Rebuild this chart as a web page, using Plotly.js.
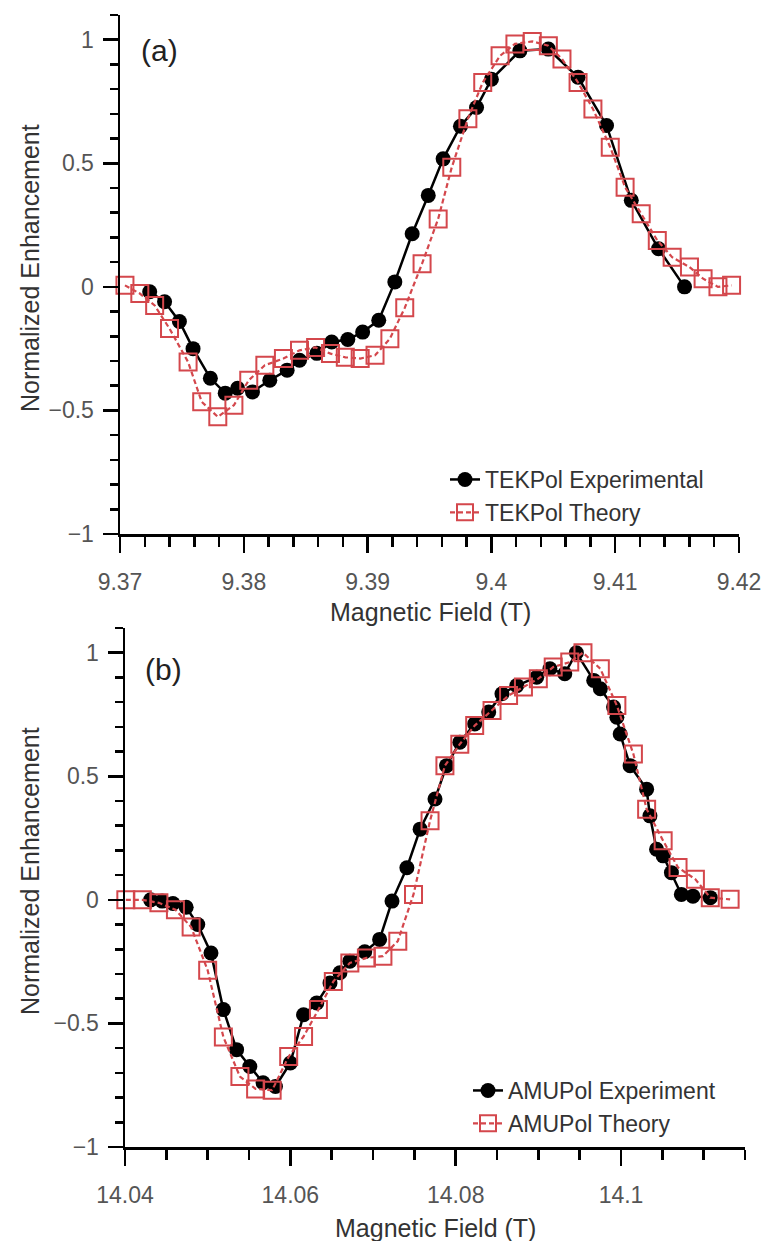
<!DOCTYPE html>
<html>
<head>
<meta charset="utf-8">
<script src="https://cdn.plot.ly/plotly-3.0.1.min.js"></script>
<style>html,body{margin:0;padding:0;background:#fff;}#chart{width:768px;height:1241px;}</style>
</head>
<body>
<div id="chart"></div>
<script>
// Panel (a) TEKPol
const fieldA_exp = [9.3724, 9.3736, 9.3748, 9.3759, 9.3773, 9.3785, 9.3795, 9.3807, 9.3821, 9.3835, 9.3845, 9.3859, 9.3871, 9.3884, 9.3896, 9.3909, 9.3922, 9.3936, 9.3949, 9.3961, 9.3975, 9.3988, 9.4000, 9.4023, 9.4046, 9.4070, 9.4093, 9.4113, 9.4135, 9.4156];
const enhA_exp   = [-0.02, -0.06, -0.14, -0.25, -0.37, -0.43, -0.41, -0.425, -0.378, -0.337, -0.297, -0.269, -0.223, -0.213, -0.183, -0.135, 0.02, 0.215, 0.37, 0.518, 0.65, 0.726, 0.84, 0.955, 0.962, 0.848, 0.653, 0.35, 0.154, 0.0];
const fieldA_th  = [9.3704, 9.3716, 9.3728, 9.3740, 9.3755, 9.3766, 9.3779, 9.3792, 9.3804, 9.3817, 9.3832, 9.3845, 9.3858, 9.3870, 9.3882, 9.3894, 9.3906, 9.3918, 9.3930, 9.3944, 9.3957, 9.3968, 9.3981, 9.3993, 9.4007, 9.4019, 9.4033, 9.4046, 9.4057, 9.4070, 9.4082, 9.4096, 9.4108, 9.4121, 9.4134, 9.4146, 9.4160, 9.4171, 9.4183, 9.4194];
const enhA_th    = [0.006, -0.027, -0.075, -0.169, -0.304, -0.465, -0.526, -0.479, -0.378, -0.317, -0.29, -0.257, -0.245, -0.27, -0.285, -0.29, -0.277, -0.21, -0.085, 0.094, 0.275, 0.484, 0.68, 0.827, 0.935, 0.983, 0.993, 0.976, 0.922, 0.827, 0.72, 0.565, 0.403, 0.296, 0.188, 0.12, 0.08, 0.033, 0.0, 0.006];

// Panel (b) AMUPol
const fieldB_exp = [14.0431, 14.0445, 14.0458, 14.0474, 14.0488, 14.0504, 14.0519, 14.0535, 14.0551, 14.0567, 14.0582, 14.0600, 14.0616, 14.0632, 14.0648, 14.0660, 14.0672, 14.0690, 14.0708, 14.0723, 14.0741, 14.0757, 14.0775, 14.0789, 14.0805, 14.0823, 14.0840, 14.0856, 14.0874, 14.0898, 14.0914, 14.0932, 14.0946, 14.0967, 14.0975, 14.0991, 14.0995, 14.0999, 14.1011, 14.1031, 14.1035, 14.1043, 14.1051, 14.1061, 14.1073, 14.1087, 14.1108];
const enhB_exp   = [0.0, -0.005, -0.015, -0.03, -0.10, -0.215, -0.444, -0.606, -0.674, -0.74, -0.755, -0.66, -0.465, -0.417, -0.336, -0.295, -0.248, -0.21, -0.16, -0.005, 0.13, 0.286, 0.408, 0.543, 0.638, 0.712, 0.76, 0.834, 0.867, 0.901, 0.935, 0.915, 1.0, 0.888, 0.854, 0.78, 0.739, 0.671, 0.543, 0.448, 0.34, 0.205, 0.178, 0.11, 0.022, 0.015, 0.009];
const fieldB_th  = [14.0401, 14.0421, 14.0441, 14.0461, 14.0480, 14.0500, 14.0519, 14.0539, 14.0558, 14.0578, 14.0598, 14.0616, 14.0634, 14.0652, 14.0672, 14.0692, 14.0712, 14.0730, 14.0749, 14.0769, 14.0787, 14.0805, 14.0823, 14.0844, 14.0864, 14.0882, 14.0900, 14.0918, 14.0938, 14.0954, 14.0975, 14.0995, 14.1015, 14.1031, 14.1051, 14.1069, 14.1090, 14.1108, 14.1132];
const enhB_th    = [0.0, 0.0, -0.012, -0.04, -0.11, -0.285, -0.555, -0.715, -0.765, -0.77, -0.634, -0.553, -0.444, -0.33, -0.255, -0.235, -0.228, -0.167, 0.022, 0.32, 0.543, 0.63, 0.705, 0.766, 0.827, 0.861, 0.895, 0.942, 0.962, 1.0, 0.935, 0.786, 0.59, 0.367, 0.239, 0.131, 0.083, 0.009, 0.002];

// Tick labels
const xTickValsA = [9.37, 9.38, 9.39, 9.40, 9.41, 9.42];
const xTickTextA = ['9.37', '9.38', '9.39', '9.4', '9.41', '9.42'];
const xTickValsB = [14.04, 14.06, 14.08, 14.10];
const xTickTextB = ['14.04', '14.06', '14.08', '14.1'];
const yTickVals  = [-1, -0.5, 0, 0.5, 1];
const yTickText  = ['\u22121', '\u22120.5', '0', '0.5', '1'];

const W = 768, H = 1241;
const px = v => v / W;
const py = v => (H - v) / H;
const FONT = '"Liberation Sans", Arial, sans-serif';
const RED = '#d4474c';

function expTrace(x, y, name, xa, ya, lg) {
  return {x, y, name, xaxis: xa, yaxis: ya, legend: lg, type: 'scatter', mode: 'lines+markers',
    cliponaxis: false,
    line: {color: '#000', width: 2.5},
    marker: {symbol: 'circle', size: 15, color: '#000'}};
}
function thTrace(x, y, name, xa, ya, lg) {
  return {x, y, name, xaxis: xa, yaxis: ya, legend: lg, type: 'scatter', mode: 'lines+markers',
    cliponaxis: false,
    line: {color: RED, width: 2.2, dash: '5px,3px'},
    marker: {symbol: 'square-open', size: 17, color: RED, line: {color: RED, width: 2}}};
}

const data = [
  expTrace(fieldA_exp, enhA_exp, 'TEKPol Experimental', 'x', 'y', 'legend'),
  thTrace(fieldA_th, enhA_th, 'TEKPol Theory', 'x', 'y', 'legend'),
  expTrace(fieldB_exp, enhB_exp, 'AMUPol Experiment', 'x2', 'y2', 'legend2'),
  thTrace(fieldB_th, enhB_th, 'AMUPol Theory', 'x2', 'y2', 'legend2')
];

const tickFont = {family: FONT, size: 23, color: '#555'};
function xAxis(domain, range, vals, text, tick0, minorDtick, anchor) {
  return {domain, range, anchor, tickmode: 'array', tickvals: vals, ticktext: text,
    ticks: 'outside', ticklen: 16, tickwidth: 2.5, tickcolor: '#000',
    ticklabelstandoff: 10,
    minor: {tickmode: 'linear', tick0: tick0, dtick: minorDtick, ticks: 'outside', ticklen: 10, tickwidth: 2.5, tickcolor: '#000', showgrid: false},
    showline: true, linecolor: '#000', linewidth: 2.5, showgrid: false, zeroline: false,
    tickfont: tickFont, automargin: false, fixedrange: true};
}
function yAxis(domain, anchor) {
  return {domain, range: [-1, 1.1], anchor, tickmode: 'array', tickvals: yTickVals, ticktext: yTickText,
    ticks: 'outside', ticklen: 15, tickwidth: 2.5, tickcolor: '#000',
    ticklabelstandoff: 4,
    minor: {tickmode: 'linear', tick0: -1, dtick: 0.1, ticks: 'outside', ticklen: 8, tickwidth: 2.5, tickcolor: '#000', showgrid: false},
    showline: true, linecolor: '#000', linewidth: 2.5, showgrid: false, zeroline: false,
    tickfont: tickFont, automargin: false, fixedrange: true};
}

const titleFont = {family: FONT, size: 25, color: '#333'};
const legendFont = {family: FONT, size: 23, color: '#333'};

const layout = {
  width: W, height: H,
  margin: {l: 0, r: 0, t: 0, b: 0},
  paper_bgcolor: '#fff', plot_bgcolor: '#fff',
  font: {family: FONT},
  xaxis: xAxis([px(120), px(739)], [9.37, 9.42], xTickValsA, xTickTextA, 9.37, 0.002, 'y'),
  yaxis: yAxis([py(534), py(15)], 'x'),
  xaxis2: xAxis([px(125), px(745)], [14.04, 14.115], xTickValsB, xTickTextB, 14.04, 0.005, 'y2'),
  yaxis2: yAxis([py(1147), py(628)], 'x2'),
  legend: {x: px(445), y: py(458), xanchor: 'left', yanchor: 'top', bgcolor: 'rgba(0,0,0,0)', font: legendFont, tracegroupgap: 0},
  legend2: {x: px(468), y: py(1069), xanchor: 'left', yanchor: 'top', bgcolor: 'rgba(0,0,0,0)', font: legendFont, tracegroupgap: 0},
  annotations: [
    {text: 'Magnetic Field (T)', xref: 'paper', yref: 'paper', x: px(430), y: py(612), xanchor: 'center', yanchor: 'middle', showarrow: false, font: titleFont},
    {text: 'Magnetic Field (T)', xref: 'paper', yref: 'paper', x: px(435), y: py(1228), xanchor: 'center', yanchor: 'middle', showarrow: false, font: titleFont},
    {text: 'Normalized Enhancement', xref: 'paper', yref: 'paper', x: px(30), y: py(268), xanchor: 'center', yanchor: 'middle', textangle: -90, showarrow: false, font: titleFont},
    {text: 'Normalized Enhancement', xref: 'paper', yref: 'paper', x: px(30), y: py(871), xanchor: 'center', yanchor: 'middle', textangle: -90, showarrow: false, font: titleFont},
    {text: '(a)', xref: 'paper', yref: 'paper', x: px(159), y: py(50), xanchor: 'center', yanchor: 'middle', showarrow: false, font: {family: FONT, size: 30, color: '#222'}},
    {text: '(b)', xref: 'paper', yref: 'paper', x: px(163), y: py(670), xanchor: 'center', yanchor: 'middle', showarrow: false, font: {family: FONT, size: 30, color: '#222'}}
  ]
};

Plotly.newPlot('chart', data, layout, {staticPlot: true, displayModeBar: false});
</script>
</body>
</html>
